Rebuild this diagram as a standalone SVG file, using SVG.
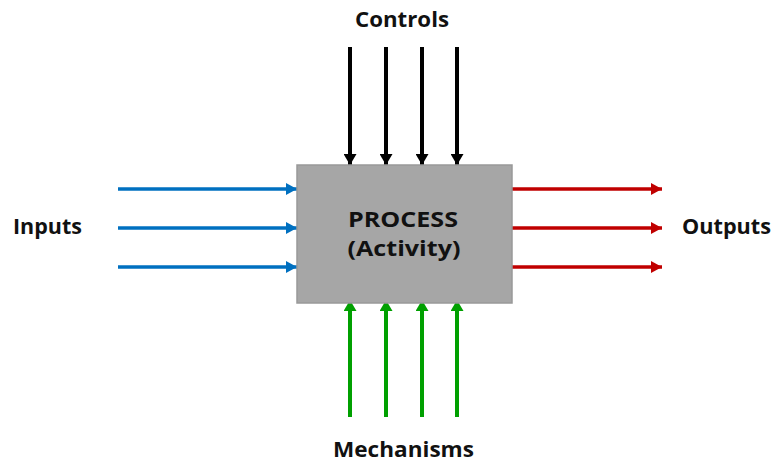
<svg xmlns="http://www.w3.org/2000/svg" width="773" height="463" viewBox="0 0 773 463">
<defs>
<style>
.lbl{font-family:"Open Sans","Liberation Sans",sans-serif;font-weight:bold;font-size:21px;fill:#111;text-anchor:middle}
.ctl{stroke:#000;stroke-width:4;fill:none}
.in{stroke:#0070c0;stroke-width:3.5;fill:none}
.out{stroke:#c00000;stroke-width:3.5;fill:none}
.mec{stroke:#00a000;stroke-width:4;fill:none}
</style>
<marker id="mkB" markerWidth="11" markerHeight="13" viewBox="0 0 11 13" refX="11" refY="6.5" orient="auto" markerUnits="userSpaceOnUse"><path d="M0,0 L11,6.5 L0,13 Z" fill="#000"/></marker>
<marker id="mkG" markerWidth="11" markerHeight="13" viewBox="0 0 11 13" refX="11" refY="6.5" orient="auto" markerUnits="userSpaceOnUse"><path d="M0,0 L11,6.5 L0,13 Z" fill="#00a000"/></marker>
<marker id="mkBl" markerWidth="11" markerHeight="12" viewBox="0 0 11 12" refX="11" refY="6" orient="auto" markerUnits="userSpaceOnUse"><path d="M0,0 L11,6 L0,12 Z" fill="#0070c0"/></marker>
<marker id="mkR" markerWidth="11" markerHeight="12" viewBox="0 0 11 12" refX="11" refY="6" orient="auto" markerUnits="userSpaceOnUse"><path d="M0,0 L11,6 L0,12 Z" fill="#c00000"/></marker>
</defs>
<rect width="773" height="463" fill="#fff"/>
<g id="connectors">
<line class="ctl" x1="350" y1="47" x2="350" y2="165" marker-end="url(#mkB)"/>
<line class="ctl" x1="386" y1="47" x2="386" y2="165" marker-end="url(#mkB)"/>
<line class="ctl" x1="422" y1="47" x2="422" y2="165" marker-end="url(#mkB)"/>
<line class="ctl" x1="457" y1="47" x2="457" y2="165" marker-end="url(#mkB)"/>
<line class="in" x1="118" y1="189" x2="297" y2="189" marker-end="url(#mkBl)"/>
<line class="in" x1="118" y1="228" x2="297" y2="228" marker-end="url(#mkBl)"/>
<line class="in" x1="118" y1="267" x2="297" y2="267" marker-end="url(#mkBl)"/>
<line class="out" x1="512" y1="189" x2="662" y2="189" marker-end="url(#mkR)"/>
<line class="out" x1="512" y1="228" x2="662" y2="228" marker-end="url(#mkR)"/>
<line class="out" x1="512" y1="267" x2="662" y2="267" marker-end="url(#mkR)"/>
<line class="mec" x1="350" y1="417" x2="350" y2="300" marker-end="url(#mkG)"/>
<line class="mec" x1="386" y1="417" x2="386" y2="300" marker-end="url(#mkG)"/>
<line class="mec" x1="422" y1="417" x2="422" y2="300" marker-end="url(#mkG)"/>
<line class="mec" x1="457" y1="417" x2="457" y2="300" marker-end="url(#mkG)"/>
</g>
<g id="process">
<rect x="297" y="165" width="215" height="138" fill="#a6a6a6" stroke="#999" stroke-width="1.5"/>
<text class="lbl" x="403" y="227" textLength="110" lengthAdjust="spacingAndGlyphs">PROCESS</text>
<text class="lbl" x="404" y="256" textLength="113" lengthAdjust="spacingAndGlyphs">(Activity)</text>
</g>
<g id="controls"><text class="lbl" x="402" y="27" textLength="94" lengthAdjust="spacingAndGlyphs">Controls</text></g>
<g id="inputs"><text class="lbl" x="47.5" y="234" textLength="69" lengthAdjust="spacingAndGlyphs">Inputs</text></g>
<g id="outputs"><text class="lbl" x="726.5" y="234" textLength="89" lengthAdjust="spacingAndGlyphs">Outputs</text></g>
<g id="mechanisms"><text class="lbl" x="403.5" y="457" textLength="141" lengthAdjust="spacingAndGlyphs">Mechanisms</text></g>
</svg>
